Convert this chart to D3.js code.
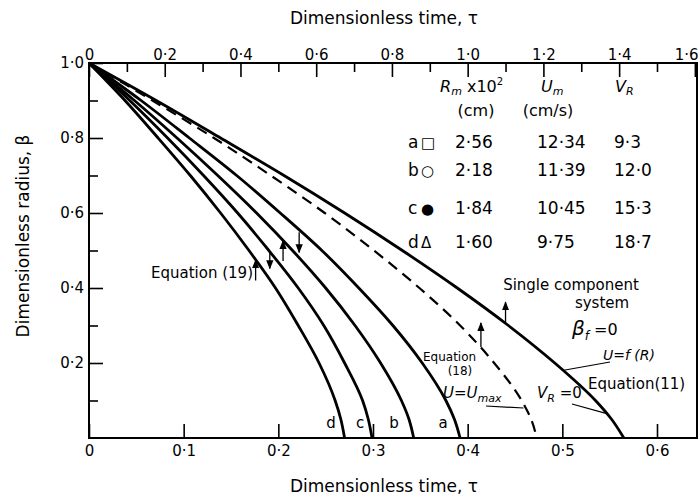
<!DOCTYPE html>
<html><head><meta charset="utf-8">
<script src="https://cdn.jsdelivr.net/npm/d3@7"></script>
<style>
body{margin:0;background:#fff}
svg{display:block}
text{font-family:"DejaVu Sans",sans-serif;fill:#000}
</style>
</head><body>
<svg id="c" width="699" height="499"></svg>
<script>
// ---- data ----
const bottomTicks = [0, 0.1, 0.2, 0.3, 0.4, 0.5, 0.6];
const topTicks = [0, 0.2, 0.4, 0.6, 0.8, 1.0, 1.2, 1.4, 1.6];
const topMinor = [0.1, 0.3, 0.5, 0.7, 0.9, 1.1, 1.3, 1.5];
const leftTicks = [0.2, 0.4, 0.6, 0.8, 1.0];
const leftMinor = [0.1, 0.3, 0.5, 0.7, 0.9];

// [tau (bottom scale), beta]
const singleComp = [[0,1],[0.071,0.9],[0.139,0.8],[0.206,0.7],[0.270,0.6],[0.331,0.5],[0.389,0.4],[0.443,0.3],[0.492,0.2],[0.535,0.1],[0.552,0.05],[0.565,0]];
const eq18 = [[0,1],[0.067,0.9],[0.132,0.8],[0.192,0.7],[0.249,0.6],[0.301,0.5],[0.349,0.4],[0.392,0.3],[0.428,0.2],[0.457,0.1],[0.467,0.05],[0.473,0]];
const curveA = [[0,1],[0.055,0.9],[0.106,0.8],[0.156,0.7],[0.202,0.6],[0.246,0.5],[0.285,0.4],[0.321,0.3],[0.352,0.2],[0.377,0.1],[0.386,0.05],[0.392,0]];
const curveB = [[0,1],[0.048,0.9],[0.093,0.8],[0.136,0.7],[0.177,0.6],[0.215,0.5],[0.250,0.4],[0.281,0.3],[0.308,0.2],[0.330,0.1],[0.338,0.05],[0.343,0]];
const curveC = [[0,1],[0.043,0.9],[0.083,0.8],[0.121,0.7],[0.157,0.6],[0.190,0.5],[0.221,0.4],[0.248,0.3],[0.270,0.2],[0.289,0.1],[0.295,0.05],[0.299,0]];
const curveD = [[0,1],[0.038,0.9],[0.073,0.8],[0.107,0.7],[0.139,0.6],[0.169,0.5],[0.197,0.4],[0.221,0.3],[0.243,0.2],[0.260,0.1],[0.266,0.05],[0.270,0]];
const curveNames = ["a","b","c","d"];

// arrows: [tau, beta tail, beta head]
const arrows = [[0.440,0.305,0.362],[0.414,0.243,0.307],[0.222,0.549,0.495],[0.205,0.472,0.526],[0.191,0.497,0.452],[0.176,0.420,0.474]];

const tableRows = [
  ["a","□","2·56","12·34","9·3"],
  ["b","○","2·18","11·39","12·0"],
  ["c","●","1·84","10·45","15·3"],
  ["d","Δ","1·60","9·75","18·7"]
];

// ---- layout ----
const L = 89, R = 697, T = 63, B = 438;
const xB = d3.scaleLinear().domain([0, 0.6]).range([L, 657]);
const xT = d3.scaleLinear().domain([0, 1.6]).range([L, xB(0.64)]);
const y = d3.scaleLinear().domain([0, 1]).range([B, T]);
const fmt = d => d === 0 ? "0" : d3.format(".1f")(d).replace(".", "·");

const svg = d3.select("#c");
const defs = svg.append("defs");
defs.append("marker").attr("id","ah").attr("viewBox","0 0 10 10").attr("refX",9).attr("refY",5)
  .attr("markerWidth",7).attr("markerHeight",7).attr("orient","auto")
  .append("path").attr("d","M0,1 L10,5 L0,9 Z").attr("fill","#000");

// border
svg.append("rect").attr("x",L).attr("y",T).attr("width",R-L).attr("height",B-T)
  .attr("fill","none").attr("stroke","#000").attr("stroke-width",2);

function styleAxis(g){
  g.select(".domain").remove();
  g.selectAll("line").attr("stroke","#000").attr("stroke-width",1.6);
  g.selectAll("text").attr("font-family","DejaVu Sans").attr("font-size",15).attr("fill","#000");
}
// top axis
const gTop = svg.append("g").attr("transform",`translate(0,${T})`)
  .call(d3.axisTop(xT).tickValues(topTicks).tickSize(-14).tickPadding(3).tickFormat(fmt)).call(styleAxis);
gTop.selectAll(".tick").filter(d=>Math.abs(d-1.6)<1e-9).select("text")
  .attr("text-anchor","end").attr("x",(699 - 1) - xT(1.6));
svg.append("g").attr("transform",`translate(0,${T})`)
  .call(d3.axisTop(xT).tickValues(topMinor).tickSize(-9).tickFormat("")).call(styleAxis);
// bottom axis
svg.append("g").attr("transform",`translate(0,${B})`)
  .call(d3.axisBottom(xB).tickValues(bottomTicks).tickSize(-14).tickPadding(7).tickFormat(fmt)).call(styleAxis);
// left axis
svg.append("g").attr("transform",`translate(${L},0)`)
  .call(d3.axisLeft(y).tickValues(leftTicks).tickSize(-14).tickPadding(5).tickFormat(fmt)).call(styleAxis);
svg.append("g").attr("transform",`translate(${L},0)`)
  .call(d3.axisLeft(y).tickValues(leftMinor).tickSize(-9).tickFormat("")).call(styleAxis);

// titles
svg.append("text").attr("x",384).attr("y",24).attr("text-anchor","middle").attr("font-size",17).text("Dimensionless time, τ");
svg.append("text").attr("x",384).attr("y",492).attr("text-anchor","middle").attr("font-size",17).text("Dimensionless time, τ");
svg.append("text").attr("transform","translate(29,236) rotate(-90)").attr("text-anchor","middle").attr("font-size",17).text("Dimensionless radius, β");

// curves
const line = d3.line().x(d=>xB(d[0])).y(d=>y(d[1])).curve(d3.curveMonotoneY);
const plot = svg.append("g");
[curveA,curveB,curveC,curveD,singleComp].forEach(c=>{
  plot.append("path").attr("d",line(c)).attr("fill","none").attr("stroke","#000").attr("stroke-width",2.8);
});
plot.append("path").attr("d",line(eq18)).attr("fill","none").attr("stroke","#000").attr("stroke-width",2.2).attr("stroke-dasharray","11,7");

// arrows
arrows.forEach(a=>{
  plot.append("line").attr("x1",xB(a[0])).attr("x2",xB(a[0])).attr("y1",y(a[1])).attr("y2",y(a[2]))
    .attr("stroke","#000").attr("stroke-width",1.3).attr("marker-end","url(#ah)");
});

// curve letters
[curveA,curveB,curveC,curveD].forEach((c,i)=>{
  const xs = [443,394,360,331][i];
  svg.append("text").attr("x",xs).attr("y",428).attr("text-anchor","middle").attr("font-size",15).text(curveNames[i]);
});

// table
const th = svg.append("g").attr("font-size",16);
const t1 = th.append("text").attr("x",440).attr("y",92);
t1.append("tspan").attr("font-style","italic").text("R");
t1.append("tspan").attr("font-style","italic").attr("font-size",11).attr("dy",3).text("m");
t1.append("tspan").attr("dy",-3).text(" x10");
t1.append("tspan").attr("font-size",10).attr("dy",-7).text("2");
th.append("text").attr("x",476).attr("y",116).attr("text-anchor","middle").text("(cm)");
const t2 = th.append("text").attr("x",541).attr("y",92);
t2.append("tspan").attr("font-style","italic").text("U");
t2.append("tspan").attr("font-style","italic").attr("font-size",11).attr("dy",3).text("m");
th.append("text").attr("x",548).attr("y",116).attr("text-anchor","middle").text("(cm/s)");
const t3 = th.append("text").attr("x",615).attr("y",92);
t3.append("tspan").attr("font-style","italic").text("V");
t3.append("tspan").attr("font-style","italic").attr("font-size",11).attr("dy",3).text("R");
const rowY = [148,176,214,248];
tableRows.forEach((r,i)=>{
  th.append("text").attr("x",408).attr("y",rowY[i]).attr("font-size",17).text(r[0]);
  th.append("text").attr("x",421).attr("y",rowY[i]).attr("font-size",15).text(r[1]);
  th.append("text").attr("x",455).attr("y",rowY[i]).attr("font-size",17).text(r[2]);
  th.append("text").attr("x",537).attr("y",rowY[i]).attr("font-size",17).text(r[3]);
  th.append("text").attr("x",614).attr("y",rowY[i]).attr("font-size",17).text(r[4]);
});

// annotations
const an = svg.append("g");
an.append("text").attr("x",253).attr("y",278).attr("text-anchor","end").attr("font-size",15).text("Equation (19)");
an.append("text").attr("x",571).attr("y",290).attr("text-anchor","middle").attr("font-size",15).text("Single component");
an.append("text").attr("x",602).attr("y",308).attr("text-anchor","middle").attr("font-size",15).text("system");
const bf = an.append("text").attr("x",572).attr("y",335).attr("font-size",20);
bf.append("tspan").attr("font-style","italic").text("β");
bf.append("tspan").attr("font-style","italic").attr("font-size",12).attr("dy",5).text("f");
bf.append("tspan").attr("font-size",16).attr("dy",-5).text(" =0");
an.append("text").attr("x",603).attr("y",360).attr("font-size",14).attr("font-style","italic").text("U=f (R)");
an.append("line").attr("x1",xB(0.500)).attr("y1",y(0.18)).attr("x2",610).attr("y2",362).attr("stroke","#000").attr("stroke-width",1.2);
an.append("text").attr("x",588).attr("y",389).attr("font-size",15).text("Equation(11)");
an.append("text").attr("x",423).attr("y",361).attr("font-size",12).text("Equation");
an.append("text").attr("x",460).attr("y",375).attr("text-anchor","middle").attr("font-size",12).text("(18)");
const um = an.append("text").attr("x",443).attr("y",398).attr("font-size",15).attr("font-style","italic");
um.append("tspan").text("U=U");
um.append("tspan").attr("font-size",11).attr("dy",4).text("max");
an.append("line").attr("x1",486).attr("y1",406).attr("x2",xB(0.459)).attr("y2",y(0.08)).attr("stroke","#000").attr("stroke-width",1.2);
const vr = an.append("text").attr("x",537).attr("y",398).attr("font-size",15);
vr.append("tspan").attr("font-style","italic").text("V");
vr.append("tspan").attr("font-style","italic").attr("font-size",11).attr("dy",4).text("R");
vr.append("tspan").attr("dy",-4).text(" =0");
an.append("line").attr("x1",572).attr("y1",404).attr("x2",xB(0.547)).attr("y2",y(0.065)).attr("stroke","#000").attr("stroke-width",1.2);
</script>
</body></html>
